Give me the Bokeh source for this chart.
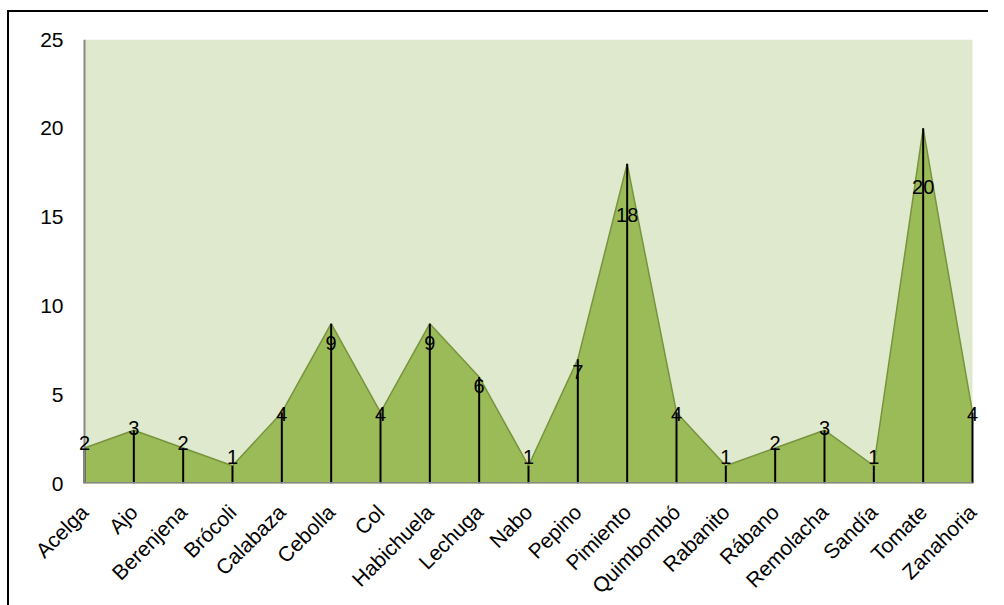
import math
from bokeh.plotting import figure
from bokeh.models import Range1d, FixedTicker, ColumnDataSource, LabelSet, BoxAnnotation, Span
from bokeh.layouts import column
from bokeh.core.properties import value
from bokeh.embed import file_html
from bokeh.resources import INLINE

categories = ["Acelga", "Ajo", "Berenjena", "Brócoli", "Calabaza", "Cebolla", "Col",
              "Habichuela", "Lechuga", "Nabo", "Pepino", "Pimiento", "Quimbombó",
              "Rabanito", "Rábano", "Remolacha", "Sandía", "Tomate", "Zanahoria"]
counts = [2, 3, 2, 1, 4, 9, 4, 9, 6, 1, 7, 18, 4, 1, 2, 3, 1, 20, 4]
y_ticks = [0, 5, 10, 15, 20, 25]

xs = list(range(len(categories)))
# label placement rule (Excel-like labels sit a bit inside the peak)
label_y = [0.8 * v + 0.7 for v in counts]
src = ColumnDataSource(dict(x=xs, y=counts, zero=[0] * len(xs), ly=label_y,
                            txt=[str(v) for v in counts]))

FONT = "Liberation Sans"
PLOT_W = 888          # pixel width of the category span
EXT_L, EXT_R = 8, 16  # extra frame room so end labels are not clipped
n = len(categories) - 1
ppu = PLOT_W / n

p = figure(frame_width=PLOT_W + EXT_L + EXT_R, frame_height=444, output_backend="svg",
           toolbar_location=None,
           x_range=Range1d(-EXT_L / ppu, n + EXT_R / ppu), y_range=Range1d(0, 25),
           min_border_left=75 - EXT_L, min_border_top=27, min_border_right=0,
           min_border_bottom=104)
p.background_fill_color = "white"
p.border_fill_color = "white"
p.outline_line_color = None
p.xgrid.visible = False
p.ygrid.visible = False

# plot-area background only over the category span
p.add_layout(BoxAnnotation(left=0, right=n, bottom=0, top=25, fill_color="#DFE9CD",
                           fill_alpha=1, line_color=None, level="underlay"))

p.varea(x="x", y1="zero", y2="y", source=src, fill_color="#9BBB59")
p.line(x="x", y="y", source=src, line_color="#77933C", line_width=1.5)
p.segment(x0="x", y0="zero", x1="x", y1="y", source=src, line_color="black", line_width=2)

# axis lines drawn over the category span
p.add_layout(Span(location=0, dimension="height", line_color="#888888", line_width=2))
p.segment(x0=[xs[0]], y0=[0], x1=[xs[-1]], y1=[0], line_color="#888888", line_width=3)

labels = LabelSet(x="x", y="ly", text="txt", source=src, text_align="center",
                  text_baseline="middle", text_font=value(FONT), text_font_size="20px",
                  text_color="black")
p.add_layout(labels)

p.xaxis.ticker = FixedTicker(ticks=xs)
p.xaxis.major_label_overrides = {i: c for i, c in enumerate(categories)}
p.xaxis.major_label_orientation = math.pi / 4
p.yaxis.ticker = FixedTicker(ticks=y_ticks)
for ax in (p.xaxis, p.yaxis):
    ax.axis_line_color = None
    ax.major_tick_line_color = None
    ax.minor_tick_line_color = None
    ax.major_label_text_font = FONT
    ax.major_label_text_color = "black"
p.yaxis.major_label_text_font_size = "21px"
p.xaxis.major_label_text_font_size = "21px"
p.yaxis.major_label_standoff = 15 - EXT_L
p.xaxis.major_label_standoff = 19

layout = column(p, styles={"border-left": "2px solid black", "border-top": "2px solid black",
                           "margin-left": "7px", "margin-top": "10px"})

open("out.html", "w").write(file_html(layout, INLINE))
